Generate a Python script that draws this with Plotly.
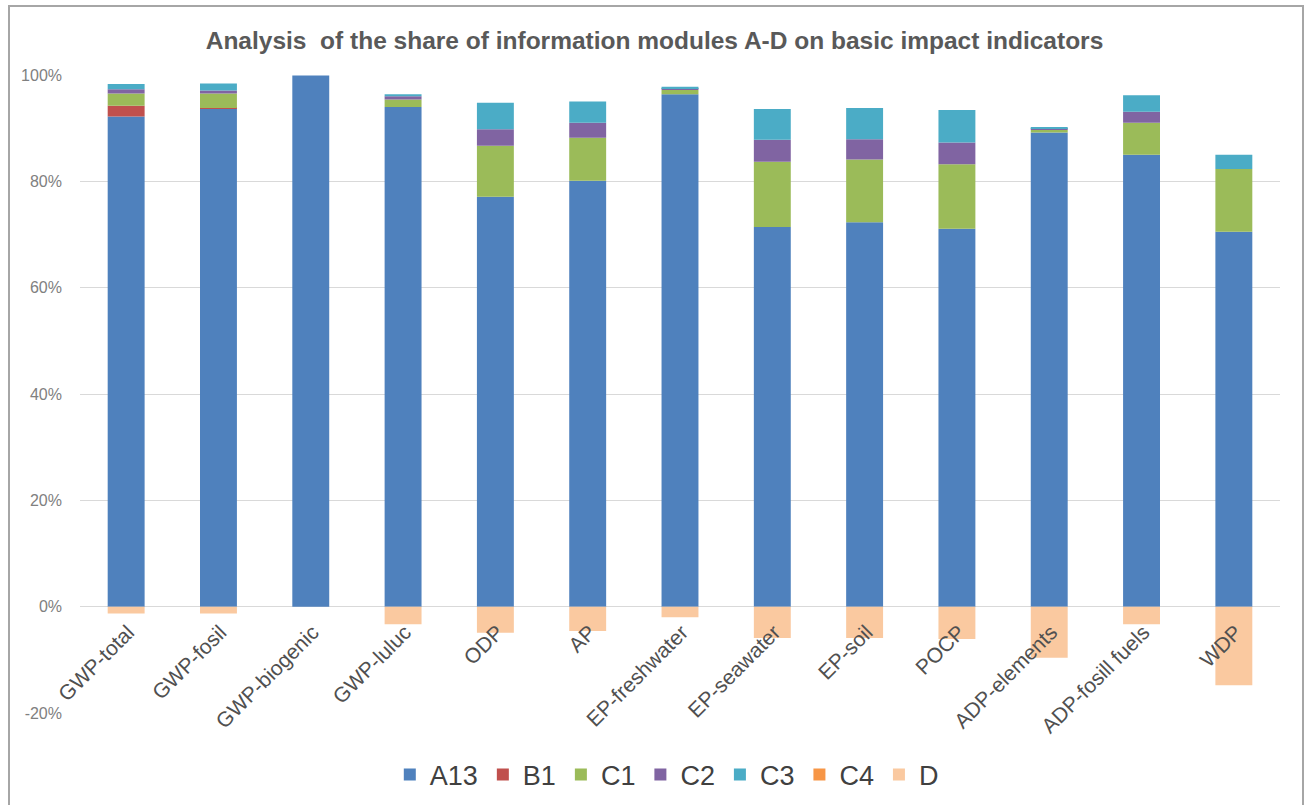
import plotly.graph_objects as go

categories = ["GWP-total", "GWP-fosil", "GWP-biogenic", "GWP-luluc", "ODP", "AP",
              "EP-freshwater", "EP-seawater", "EP-soil", "POCP", "ADP-elements",
              "ADP-fosill fuels", "WDP"]

A13 = [92.2, 93.7, 99.9, 94.0, 77.1, 80.1, 96.4, 71.4, 72.3, 71.1, 89.2, 85.0, 70.5]
B1  = [2.0, 0.1, 0.0, 0.0, 0.0, 0.0, 0.0, 0.0, 0.0, 0.0, 0.0, 0.0, 0.0]
C1  = [2.3, 2.7, 0.0, 1.4, 9.6, 8.1, 0.8, 12.3, 11.8, 12.1, 0.5, 6.0, 11.8]
C2  = [0.8, 0.6, 0.0, 0.6, 3.1, 2.8, 0.3, 4.1, 3.8, 4.1, 0.2, 2.1, 0.0]
C3  = [1.0, 1.3, 0.0, 0.4, 5.0, 4.0, 0.3, 5.8, 5.9, 6.1, 0.2, 3.1, 2.7]
C4  = [0.0] * 13
D   = [-1.3, -1.3, 0.0, -3.3, -4.9, -4.6, -2.0, -5.9, -5.9, -6.1, -9.6, -3.3, -14.8]

series = [("A13", A13, "#4F81BD"), ("B1", B1, "#C0504D"), ("C1", C1, "#9BBB59"),
          ("C2", C2, "#8064A2"), ("C3", C3, "#4BACC6"), ("C4", C4, "#F79646"),
          ("D", D, "#FAC9A0")]

y_ticks = [-20, 0, 20, 40, 60, 80, 100]
y_tick_labels = ["-20%", "0%", "20%", "40%", "60%", "80%", "100%"]

fig = go.Figure()
for name, vals, color in series:
    fig.add_trace(go.Bar(
        x=categories, y=[v / 100 for v in vals], name=name,
        marker=dict(color=color, line=dict(width=0)), width=0.4,
    ))

W, H = 1200, 638  # plot area size in px
fig.update_layout(
    barmode="relative",
    width=1309, height=805,
    paper_bgcolor="white", plot_bgcolor="white",
    margin=dict(l=80, r=29, t=75, b=92, autoexpand=False),
    font=dict(family="Liberation Sans, Arial, sans-serif", color="#595959"),
    title=dict(text="<b>Analysis  of the share of information modules A-D on basic impact indicators</b>",
               x=0.5, xanchor="center", y=0.950, yanchor="middle",
               font=dict(size=24.5, color="#595959")),
    legend=dict(orientation="h", x=0.489, xanchor="center",
                yref="container", y=(805 - 775) / 805, yanchor="middle",
                font=dict(size=27, color="#404040"), itemwidth=30, traceorder="normal"),
    xaxis=dict(anchor="free", position=106/638, tickangle=-45, showgrid=False,
               showline=False, ticks="", tickfont=dict(size=21, color="#505050"),
               ticklabelshift=2, ticklabelstandoff=8, automargin=False),
    yaxis=dict(range=[-0.2, 1.0], tickvals=[t / 100 for t in y_ticks], ticktext=y_tick_labels,
               showgrid=True, gridcolor="#D9D9D9", gridwidth=1, zeroline=False,
               tickfont=dict(size=16, color="#808080"), showline=False,
               ticklabelstandoff=17, automargin=False),
    shapes=[dict(type="rect", xref="paper", yref="paper",
                 x0=(9 - 80) / W, x1=(1303 - 80) / W, y0=(713 - 820) / H, y1=1 + (75 - 6) / H,
                 line=dict(color="#A6A6A6", width=2), fillcolor="rgba(0,0,0,0)", layer="below")],
)

fig.write_html("out.html", config={"displayModeBar": False},
               post_script="document.body.style.margin='0';")
